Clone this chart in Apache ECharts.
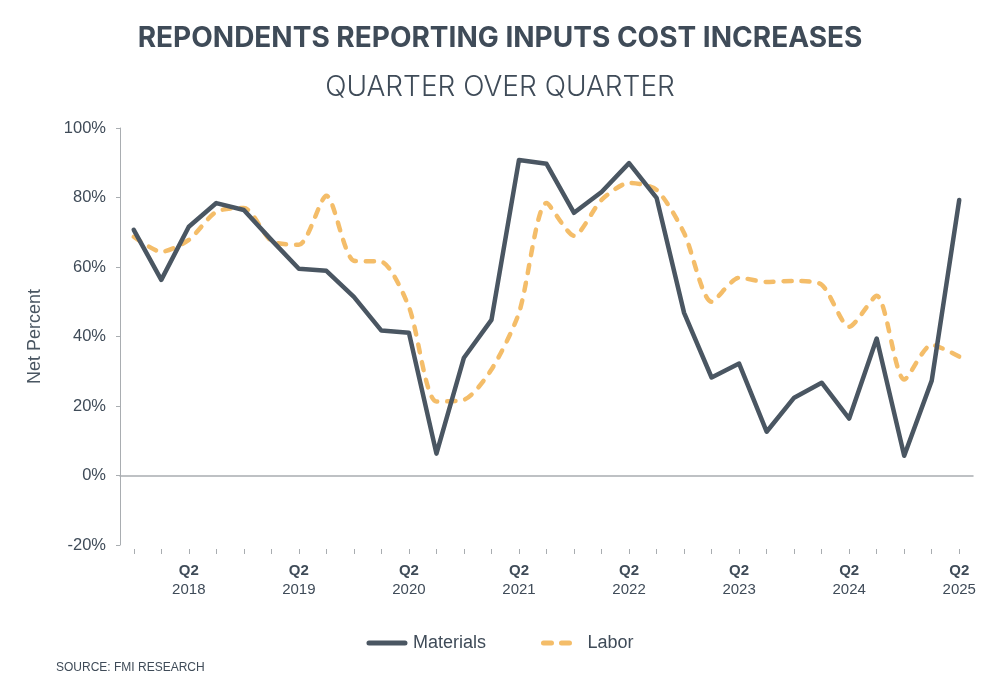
<!DOCTYPE html>
<html>
<head>
<meta charset="utf-8">
<title>Respondents reporting inputs cost increases</title>
<script src="https://cdn.jsdelivr.net/npm/echarts@6/dist/echarts.min.js"></script>
<style>
  html, body { margin: 0; padding: 0; background: #ffffff; }
  #chart { width: 1000px; height: 700px; }
</style>
</head>
<body>
<div id="chart"></div>
<script>
// Quarters from Q4 2017 to Q2 2025
var quarters = [
    'Q4 2017',
    'Q1 2018', 'Q2 2018', 'Q3 2018', 'Q4 2018',
    'Q1 2019', 'Q2 2019', 'Q3 2019', 'Q4 2019',
    'Q1 2020', 'Q2 2020', 'Q3 2020', 'Q4 2020',
    'Q1 2021', 'Q2 2021', 'Q3 2021', 'Q4 2021',
    'Q1 2022', 'Q2 2022', 'Q3 2022', 'Q4 2022',
    'Q1 2023', 'Q2 2023', 'Q3 2023', 'Q4 2023',
    'Q1 2024', 'Q2 2024', 'Q3 2024', 'Q4 2024',
    'Q1 2025', 'Q2 2025'
];

// Net percent
var materials = [
    70.7,
    56.3, 71.6, 78.4, 76.4,
    67.8, 59.5, 58.9, 51.4,
    41.7, 41.1, 6.3, 33.9,
    44.8, 90.8, 89.7, 75.6,
    81.6, 89.9, 79.9, 46.8,
    28.2, 32.2, 12.6, 22.4,
    26.7, 16.4, 39.4, 5.7,
    27.3, 79.3
];

var labor = [
    68.7,
    64.4, 67.8, 75.9, 77.0,
    67.5, 66.4, 80.5, 61.8,
    61.5, 48.5, 21.3, 21.8,
    30.5, 46.8, 78.4, 69.0,
    79.3, 84.2, 82.2, 69.8,
    50.0, 56.9, 55.7, 56.0,
    54.9, 42.8, 51.7, 27.6,
    37.6, 34.2
];

var yTicks = [-20, 0, 20, 40, 60, 80, 100];

var textColor = '#3f4b58';
var axisGrey = '#a9adb1';

var chart = echarts.init(document.getElementById('chart'));

var option = {
    backgroundColor: '#ffffff',
    animation: false,
    title: [{
        text: 'REPONDENTS REPORTING INPUTS COST INCREASES',
        left: 'center',
        top: 20,
        textStyle: {
            fontFamily: 'Inter',
            fontWeight: 'bold',
            fontSize: 28,
            color: textColor
        }
    }, {
        text: 'QUARTER OVER QUARTER',
        left: 'center',
        top: 69,
        textStyle: {
            fontFamily: 'Inter',
            fontWeight: 300,
            fontSize: 28,
            color: textColor
        }
    }, {
        text: 'SOURCE: FMI RESEARCH',
        left: 51,
        top: 657,
        textStyle: {
            fontFamily: 'Liberation Sans',
            fontWeight: 'normal',
            fontSize: 12,
            color: textColor
        }
    }],
    legend: {
        bottom: 43,
        left: 'center',
        itemWidth: 36,
        itemHeight: 10,
        itemGap: 55,
        itemStyle: {
            color: 'rgba(0,0,0,0)',
            borderWidth: 0
        },
        lineStyle: {
            width: 5,
            cap: 'round'
        },
        textStyle: {
            fontFamily: 'Liberation Sans',
            fontSize: 18,
            color: textColor,
            padding: [0, 0, 0, 3]
        },
        data: ['Materials', 'Labor']
    },
    grid: {
        left: 120,
        right: 27,
        top: 128,
        bottom: 155
    },
    xAxis: [{
        type: 'category',
        data: quarters,
        boundaryGap: true,
        position: 'bottom',
        offset: 4,
        axisLine: { show: false, onZero: false },
        axisTick: {
            show: true,
            alignWithLabel: true,
            interval: 0,
            length: 5,
            lineStyle: { color: axisGrey, width: 1 }
        },
        axisLabel: {
            interval: function (index) { return index % 4 === 2; },
            margin: 12,
            formatter: function (value) {
                var parts = value.split(' ');
                return '{q|' + parts[0] + '}\n{y|' + parts[1] + '}';
            },
            rich: {
                q: {
                    fontFamily: 'Liberation Sans',
                    fontWeight: 'bold',
                    fontSize: 15,
                    color: textColor,
                    lineHeight: 19
                },
                y: {
                    fontFamily: 'Liberation Sans',
                    fontSize: 15,
                    color: textColor,
                    lineHeight: 19
                }
            }
        },
        splitLine: { show: false }
    }, {
        // zero line
        type: 'category',
        data: quarters,
        boundaryGap: true,
        position: 'bottom',
        axisLine: {
            show: true,
            onZero: true,
            onZeroAxisIndex: 0,
            lineStyle: { color: axisGrey, width: 1.5 }
        },
        axisTick: { show: false },
        axisLabel: { show: false },
        splitLine: { show: false }
    }],
    yAxis: {
        type: 'value',
        min: yTicks[0],
        max: yTicks[yTicks.length - 1],
        interval: 20,
        name: 'Net Percent',
        nameLocation: 'middle',
        nameGap: 76,
        nameTextStyle: {
            fontFamily: 'Liberation Sans',
            fontSize: 18,
            color: '#4a5662'
        },
        axisLine: {
            show: true,
            lineStyle: { color: axisGrey, width: 1 }
        },
        axisTick: {
            show: true,
            length: 4,
            lineStyle: { color: axisGrey }
        },
        axisLabel: {
            margin: 14,
            fontFamily: 'Liberation Sans',
            fontSize: 16.5,
            color: textColor,
            formatter: '{value}%'
        },
        splitLine: { show: false }
    },
    series: [{
        name: 'Materials',
        type: 'line',
        data: materials,
        symbol: 'none',
        color: '#4a5662',
        lineStyle: {
            color: '#4a5662',
            width: 4.5,
            join: 'round',
            cap: 'round'
        },
        z: 3
    }, {
        name: 'Labor',
        type: 'line',
        data: labor,
        symbol: 'none',
        smooth: 0.25,
        color: '#f4bd69',
        lineStyle: {
            color: '#f4bd69',
            width: 4.5,
            type: [8, 10],
            cap: 'round',
            join: 'round'
        },
        z: 2
    }]
};

chart.setOption(option);
</script>
</body>
</html>
